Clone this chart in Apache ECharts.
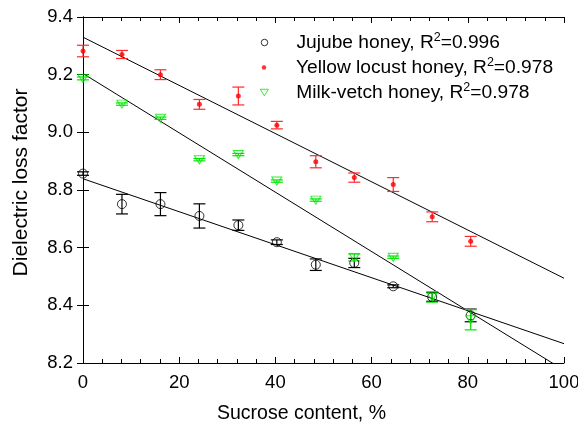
<!DOCTYPE html>
<html><head><meta charset="utf-8">
<script src="https://cdn.jsdelivr.net/npm/echarts@6/dist/echarts.min.js"></script>
<style>html,body{margin:0;padding:0;background:#fff;overflow:hidden}#c{width:578px;height:426px}</style>
</head><body><div id="c"></div>
<script>
// ---- data ----
const sucrose = [0, 8.1, 16.1, 24.2, 32.3, 40.3, 48.4, 56.4, 64.5, 72.6, 80.6];
const jujube = [8.857, 8.751, 8.751, 8.710, 8.678, 8.619, 8.541, 8.547, 8.466, 8.429, 8.365];
const jujubeErr = [0.006, 0.034, 0.040, 0.042, 0.018, 0.008, 0.020, 0.016, 0.005, 0.015, 0.022];
const locust = [9.282, 9.270, 9.200, 9.097, 9.126, 9.025, 8.898, 8.843, 8.819, 8.707, 8.622];
const locustErr = [0.020, 0.014, 0.017, 0.017, 0.031, 0.013, 0.021, 0.016, 0.024, 0.017, 0.017];
const vetch = [9.187, 9.098, 9.049, 8.905, 8.923, 8.831, 8.765, 8.566, 8.567, 8.429, 8.350];
const vetchErr = [0.005, 0.004, 0.004, 0.004, 0.004, 0.004, 0.004, 0.012, 0.004, 0.018, 0.035];
const fitJujube = [[0, 8.839], [100, 8.267]];
const fitLocust = [[0, 9.330], [100, 8.494]];
const fitVetch = [[0, 9.204], [100, 8.175]];
const names = ['Jujube honey', 'Yellow locust honey', 'Milk-vetch honey'];
const r2 = ['0.996', '0.978', '0.978'];
const xTicks = [0, 20, 40, 60, 80, 100];
const yTicks = [8.2, 8.4, 8.6, 8.8, 9.0, 9.2, 9.4];

// ---- build ----
const FONT = 'Liberation Sans, Arial, sans-serif';
const triDown = 'path://M0,0 L10,0 L5,8 Z';
function pts(ys) { return sucrose.map((x, i) => [x, ys[i]]); }
function errData(ys, es) { return sucrose.map((x, i) => [x, ys[i] - es[i], ys[i] + es[i]]); }
function errSeries(ys, es, color) {
  return {
    type: 'custom', silent: true, z: 3,
    data: errData(ys, es),
    renderItem: function (params, api) {
      const lo = api.coord([api.value(0), api.value(1)]);
      const hi = api.coord([api.value(0), api.value(2)]);
      const w = 6;
      const st = { stroke: color, lineWidth: 1.2 };
      return { type: 'group', children: [
        { type: 'line', shape: { x1: lo[0], y1: lo[1], x2: hi[0], y2: hi[1] }, style: st },
        { type: 'line', shape: { x1: lo[0] - w, y1: lo[1], x2: lo[0] + w, y2: lo[1] }, style: st },
        { type: 'line', shape: { x1: hi[0] - w, y1: hi[1], x2: hi[0] + w, y2: hi[1] }, style: st }
      ]};
    }
  };
}
function fitSeries(d) {
  return { type: 'line', data: d, showSymbol: false, symbol: 'none', clip: true, silent: true,
    lineStyle: { color: '#000', width: 1 }, z: 2 };
}
function legendFmt(i) {
  return function () { return '{a|' + names[i] + ', R}{b|2}{c|=' + r2[i] + '}'; };
}
function richFor(pad) {
  return {
    a: { fontSize: 19.2, fontFamily: FONT, color: '#000', padding: [0, 0, 0, pad], lineHeight: 22 },
    b: { fontSize: 12.5, fontFamily: FONT, color: '#000', verticalAlign: 'top', lineHeight: 12 },
    c: { fontSize: 19.2, fontFamily: FONT, color: '#000', lineHeight: 22 }
  };
}
function legend(i, icon, w, h, style, top) {
  const cx = 264;
  const pad = 296 - (cx - w / 2) - w - 5;
  return { show: true, data: [{ name: names[i], icon: icon, itemStyle: style }],
    left: cx - w / 2, top: top, itemWidth: w, itemHeight: h, selectedMode: false,
    padding: 0, formatter: legendFmt(i), textStyle: { rich: richFor(pad) } };
}
const axisCommon = {
  axisLine: { show: true, lineStyle: { color: '#000', width: 1 } },
  splitLine: { show: false }
};
const option = {
  animation: false,
  backgroundColor: '#fff',
  grid: { left: 83, right: 14, top: 17, bottom: 63, containLabel: false, outerBoundsMode: 'none' },
  legend: [
    legend(0, 'circle', 6.5, 6.5, { color: 'transparent', borderColor: '#000', borderWidth: 1 }, 31.5),
    legend(1, 'circle', 4.5, 4.5, { color: '#ff0000', borderWidth: 0 }, 56.5),
    legend(2, triDown, 8.5, 6.5, { color: 'transparent', borderColor: '#00e600', borderWidth: 1 }, 81.5)
  ],
  xAxis: [
    Object.assign({}, axisCommon, {
      type: 'value', min: 0, max: 100, interval: 20, position: 'bottom',
      name: 'Sucrose content, %', nameLocation: 'middle', nameGap: 41,
      nameTextStyle: { fontSize: 19.5, fontFamily: FONT, color: '#000', padding: [0, 44, 0, 0] },
      axisTick: { show: true, inside: true, length: 6, lineStyle: { color: '#000' } },
      minorTick: { show: true, splitNumber: 5, length: 4, lineStyle: { color: '#000' } },
      axisLabel: { fontSize: 18.5, fontFamily: FONT, color: '#000', margin: 10,
        formatter: v => xTicks.includes(v) ? String(v) : '' }
    }),
    Object.assign({}, axisCommon, {
      type: 'value', min: 0, max: 100, interval: 20, position: 'top',
      axisTick: { show: true, inside: true, length: 6, lineStyle: { color: '#000' } },
      minorTick: { show: true, splitNumber: 5, length: 4, lineStyle: { color: '#000' } },
      axisLabel: { show: false }
    })
  ],
  yAxis: [
    Object.assign({}, axisCommon, {
      type: 'value', min: 8.2, max: 9.4, interval: 0.2, position: 'left',
      name: 'Dielectric loss factor', nameLocation: 'middle', nameGap: 51,
      nameTextStyle: { fontSize: 21, fontFamily: FONT, color: '#000', padding: [0, 0, 0, 15] },
      axisTick: { show: true, inside: true, length: 6, lineStyle: { color: '#000' } },
      axisLabel: { fontSize: 18.5, fontFamily: FONT, color: '#000', margin: 10,
        formatter: v => yTicks.some(t => Math.abs(t - v) < 1e-6) ? v.toFixed(1) : '' }
    }),
    Object.assign({}, axisCommon, {
      type: 'value', min: 8.2, max: 9.4, interval: 0.2, position: 'right',
      axisTick: { show: true, inside: true, length: 6, lineStyle: { color: '#000' } },
      axisLabel: { show: false }
    })
  ],
  series: [
    fitSeries(fitJujube), fitSeries(fitLocust), fitSeries(fitVetch),
    errSeries(jujube, jujubeErr, '#000'),
    errSeries(locust, locustErr, '#ff2a2a'),
    errSeries(vetch, vetchErr, '#00e600'),
    { name: names[0], type: 'scatter', data: pts(jujube), symbol: 'circle', symbolSize: 9, z: 4,
      itemStyle: { color: 'transparent', borderColor: '#000', borderWidth: 1 } },
    { name: names[1], type: 'scatter', data: pts(locust), symbol: 'circle', symbolSize: 5, z: 4,
      itemStyle: { color: '#ff0000', borderWidth: 0 } },
    { name: names[2], type: 'scatter', data: pts(vetch), symbol: triDown, symbolSize: [10, 8], z: 4,
      itemStyle: { color: 'transparent', borderColor: '#00e600', borderWidth: 1 } }
  ]
};
const chart = echarts.init(document.getElementById('c'), null, { renderer: 'canvas' });
chart.setOption(option);
</script></body></html>
